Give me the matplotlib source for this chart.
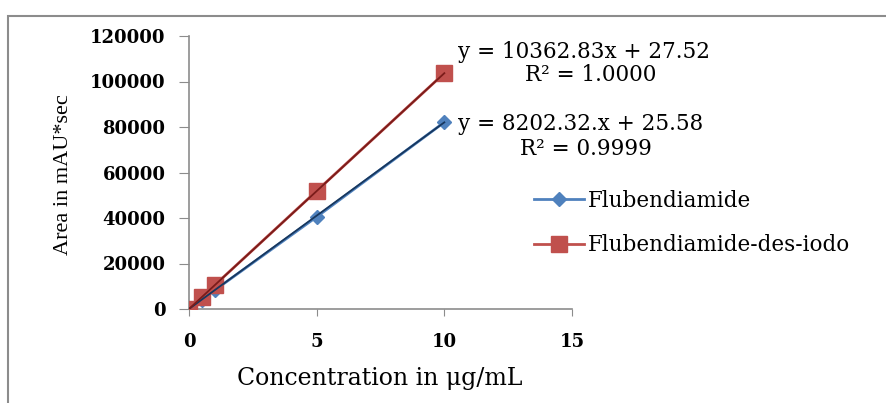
import matplotlib
matplotlib.use("Agg")
import matplotlib.pyplot as plt
from matplotlib.patches import Rectangle

# calibration data
conc = [0, 0.5, 1, 5, 10]
flub = [0, 4100, 8200, 40500, 82100]
desiodo = [0, 5200, 10400, 51900, 103650]

# trendline coefficients (slope, intercept) as reported
flub_fit = (8202.32, 25.58)
desiodo_fit = (10362.83, 27.52)
fit_x = [0, 10]

xticks = [0, 5, 10, 15]
yticks = [0, 20000, 40000, 60000, 80000, 100000, 120000]

fig = plt.figure(figsize=(8.86, 4.03), dpi=100)
fig.patches.append(Rectangle((8 / 886, -0.1), 1.0, 1 - 16 / 403 + 0.1,
                             transform=fig.transFigure, fill=False,
                             edgecolor="#8c8c8c", linewidth=1.5))

ax = fig.add_axes([189 / 886, 1 - 309 / 403, 383 / 886, 273 / 403])

l1, = ax.plot(conc, flub, color="#4F81BD", marker="D", markersize=7.5,
              linewidth=2, label="Flubendiamide", zorder=3)
l2, = ax.plot(conc, desiodo, color="#C0504D", marker="s", markersize=12,
              linewidth=2, label="Flubendiamide-des-iodo", zorder=3)

# trendlines
ax.plot(fit_x, [flub_fit[0] * x + flub_fit[1] for x in fit_x],
        color="#17375E", linewidth=1.3, zorder=4)
ax.plot(fit_x, [desiodo_fit[0] * x + desiodo_fit[1] for x in fit_x],
        color="#7B1C1A", linewidth=1.3, zorder=4)

ax.set_xlim(0, 15)
ax.set_ylim(0, 120000)
ax.set_xticks(xticks)
ax.set_yticks(yticks)
ax.set_xticklabels([str(t) for t in xticks], family="DejaVu Serif",
                   fontweight="bold", fontsize=13)
ax.set_yticklabels([str(t) for t in yticks], family="DejaVu Serif",
                   fontweight="bold", fontsize=13)
ax.tick_params(axis="y", direction="out", length=7, color="#8c8c8c", pad=10)
ax.tick_params(axis="x", direction="out", length=5, color="#8c8c8c", pad=12)

for side in ["top", "right"]:
    ax.spines[side].set_visible(False)
for side in ["left", "bottom"]:
    ax.spines[side].set_color("#8c8c8c")
    ax.spines[side].set_linewidth(1.2)
ax.patch.set_alpha(0)

fig.text(64 / 886, 1 - 175 / 403, "Area in mAU*sec", rotation=90,
         ha="center", va="center", family="Liberation Serif", fontsize=16)
fig.text(380 / 886, 1 - 378 / 403, "Concentration in \u03bcg/mL",
         ha="center", va="center", family="DejaVu Serif", fontsize=17)

eq_font = {"family": "DejaVu Serif", "fontsize": 15.5}
fig.text(458 / 886, 1 - 52 / 403, "y = 10362.83x + 27.52",
         ha="left", va="center", **eq_font)
fig.text(525 / 886, 1 - 75 / 403, "R\u00b2 = 1.0000",
         ha="left", va="center", **eq_font)
fig.text(458 / 886, 1 - 124 / 403, "y = 8202.32.x + 25.58",
         ha="left", va="center", **eq_font)
fig.text(520 / 886, 1 - 149 / 403, "R\u00b2 = 0.9999",
         ha="left", va="center", **eq_font)

fig.legend(handles=[l1, l2], loc="center left",
           bbox_to_anchor=(515 / 886, 1 - 223 / 403), frameon=False,
           prop={"family": "DejaVu Serif", "size": 15.5}, handlelength=2.3,
           handletextpad=0.2, labelspacing=1.05)

fig.savefig("out.png", dpi=100)
